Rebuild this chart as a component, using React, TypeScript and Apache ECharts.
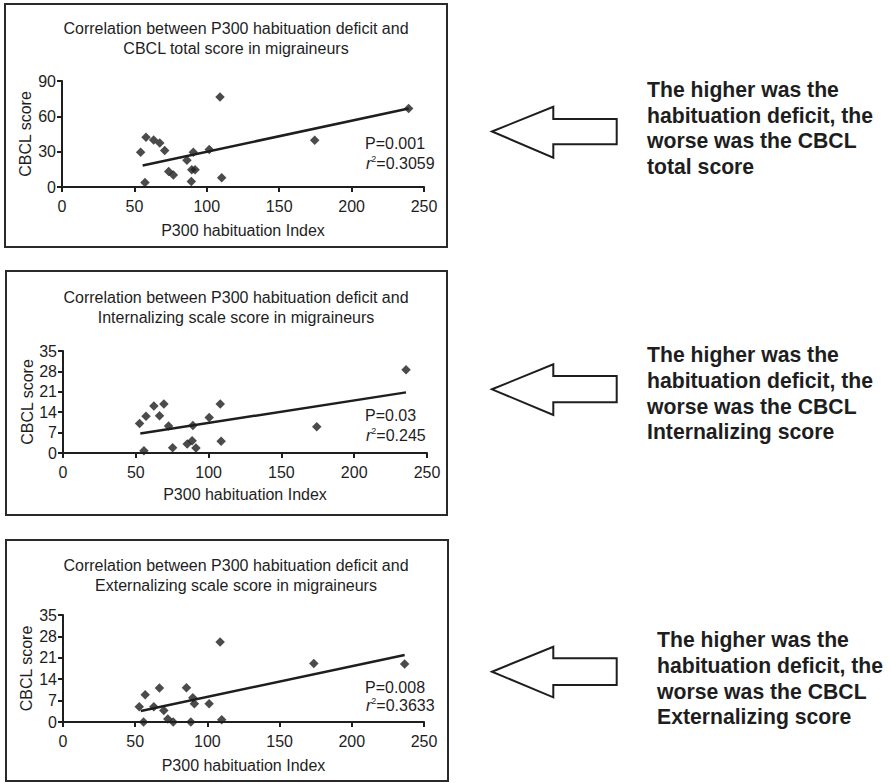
import React, { useEffect, useRef } from "react";
import * as echarts from "echarts";

const FONT = '"Liberation Sans", Arial, Helvetica, sans-serif';
const INK = "#1e1e1e";

const xTicks = [0, 50, 100, 150, 200, 250];

const titles = [
  "Correlation between P300 habituation deficit and\nCBCL total score in migraineurs",
  "Correlation between P300 habituation deficit and\nInternalizing scale score in migraineurs",
  "Correlation between P300 habituation deficit and\nExternalizing scale score in migraineurs",
];

const yMax = [90, 35, 35];
const yInterval = [30, 7, 7];

const totalPoints = [
  [54.3, 29.5], [57.3, 3.9], [58, 42.2], [63.3, 40], [67.5, 37.4], [70.9, 30.9],
  [73.7, 13.2], [76.9, 10.1], [86.3, 22.8], [89.3, 4.7], [89.6, 14.6], [90.7, 29.5],
  [91.9, 14.6], [101.7, 31.8], [109.1, 76.5], [110.3, 7.9], [174.5, 39.7], [239.4, 66.7],
];
const internalPoints = [
  [52.6, 10.1], [55.6, 0.8], [57, 12.6], [62.4, 16.1], [66.3, 12.8], [69.3, 16.8],
  [72.5, 9.3], [75.3, 1.8], [85.3, 3.1], [88.7, 4.2], [89.2, 9.4], [91.3, 1.7],
  [100.4, 12.2], [108, 16.8], [108.6, 4.0], [174.3, 9.0], [235.6, 28.6],
];
const externalPoints = [
  [52.8, 5.0], [55.8, 0], [56.9, 8.9], [62.9, 5.0], [66.8, 11.1], [69.8, 3.8],
  [72.6, 1.0], [76.3, 0], [85.5, 11.2], [88.5, 0], [89.9, 7.9], [91, 6.0],
  [101.2, 6.0], [108.8, 26.2], [109.9, 0.7], [173.7, 19.1], [236.6, 19.0],
];

const totalFit = [[55.7, 18.2], [239.4, 66.7]];
const internalFit = [[53.1, 6.7], [235.6, 20.8]];
const externalFit = [[53.9, 3.6], [236.6, 21.9]];

const pValues = ["P=0.001", "P=0.03", "P=0.008"];
const r2Values = ["0.3059", "0.245", "0.3633"];

const sideTexts = [
  "The higher was the\nhabituation deficit, the\nworse was the CBCL\ntotal score",
  "The higher was the\nhabituation deficit, the\nworse was the CBCL\nInternalizing score",
  "The higher was the\nhabituation deficit, the\nworse was the CBCL\nExternalizing score",
];

const pointSets = [totalPoints, internalPoints, externalPoints];
const fitSets = [totalFit, internalFit, externalFit];

export default function App() {
  const ref = useRef<HTMLDivElement>(null);

  useEffect(() => {
    if (!ref.current) return;
    const chart = echarts.init(ref.current, null, { renderer: "svg" });

    const grids = [
      { left: 62, top: 81, width: 362, height: 106 },
      { left: 63, top: 351, width: 364, height: 102 },
      { left: 63, top: 615, width: 361, height: 107 },
    ];
    const titleTops = [13, 282, 550];
    const titleX = [231, 231, 231];
    const yNameGaps = [29, 28, 29];
    const xNameGaps = [35, 33, 35];
    const pY = [143, 415, 687];
    const rY = [163, 435, 705];
    const boxes = [
      { x: 5, y: 4, w: 442, h: 243 },
      { x: 6, y: 271, w: 441, h: 244 },
      { x: 6, y: 540, w: 442, h: 241 },
    ];
    const arrows = [
      { tipY: 131.5, headT: 106.7, headB: 157.7, shT: 119, shB: 144.3 },
      { tipY: 389.3, headT: 364.3, headB: 415, shT: 376, shB: 402.3 },
      { tipY: 671.7, headT: 646.7, headB: 697.3, shT: 658.3, shB: 685 },
    ];
    const sideTop = [76.5, 342, 627];
    const sideLeft = [647, 647, 657];

    const axisCommon = {
      axisLine: { show: true, lineStyle: { color: INK, width: 2 } },
      axisTick: { show: true, length: 5, lineStyle: { color: INK, width: 2 } },
      splitLine: { show: false },
    };

    const xAxis = grids.map((_, i) => ({
      type: "value",
      gridIndex: i,
      min: 0,
      max: 250,
      interval: 50,
      name: "P300 habituation Index",
      nameLocation: "middle",
      nameGap: xNameGaps[i],
      nameTextStyle: { fontFamily: FONT, fontSize: 16, color: INK },
      axisLabel: { margin: 11, fontFamily: FONT, fontSize: 16, color: INK },
      ...axisCommon,
    }));
    const yAxis = grids.map((_, i) => ({
      type: "value",
      gridIndex: i,
      min: 0,
      max: yMax[i],
      interval: yInterval[i],
      name: "CBCL score",
      nameLocation: "middle",
      nameGap: yNameGaps[i],
      nameTextStyle: { fontFamily: FONT, fontSize: 16, color: INK },
      axisLabel: { margin: 6, fontFamily: FONT, fontSize: 16, color: INK },
      ...axisCommon,
    }));

    const series: any[] = [];
    pointSets.forEach((pts, i) => {
      series.push({
        type: "line",
        xAxisIndex: i,
        yAxisIndex: i,
        data: fitSets[i],
        symbol: "none",
        lineStyle: { color: INK, width: 2.5 },
        z: 2,
      });
      series.push({
        type: "scatter",
        xAxisIndex: i,
        yAxisIndex: i,
        data: pts,
        symbol: "diamond",
        symbolSize: 9.5,
        itemStyle: { color: INK },
        z: 3,
      });
    });

    const graphic: any[] = [];
    boxes.forEach((b) => {
      graphic.push({
        type: "rect",
        shape: { x: b.x, y: b.y, width: b.w, height: b.h },
        style: { fill: "none", stroke: "#2a2a2a", lineWidth: 2 },
        silent: true,
      });
    });
    arrows.forEach((a) => {
      graphic.push({
        type: "polygon",
        shape: {
          points: [
            [492, a.tipY],
            [553.3, a.headT],
            [553.3, a.shT],
            [616.7, a.shT],
            [616.7, a.shB],
            [553.3, a.shB],
            [553.3, a.headB],
          ],
        },
        style: { fill: "#fff", stroke: INK, lineWidth: 2 },
      });
    });
    sideTexts.forEach((t, i) => {
      graphic.push({
        type: "text",
        x: sideLeft[i],
        y: sideTop[i],
        style: {
          text: t,
          fontFamily: FONT,
          fontSize: 21.2,
          fontWeight: "bold",
          lineHeight: 25.7,
          fill: INK,
          align: "left",
          verticalAlign: "top",
        },
      });
    });
    pValues.forEach((p, i) => {
      graphic.push({
        type: "text",
        x: 365,
        y: pY[i],
        style: {
          text: p,
          fontFamily: FONT,
          fontSize: 16,
          fill: INK,
          align: "left",
          verticalAlign: "middle",
        },
      });
      graphic.push({
        type: "text",
        x: 366,
        y: rY[i],
        style: {
          text: "{i|r}{s|2}{n|=" + r2Values[i] + "}",
          fontFamily: FONT,
          fontSize: 16,
          fill: INK,
          align: "left",
          verticalAlign: "middle",
          rich: {
            i: { fontStyle: "italic", fontSize: 16, lineHeight: 18, fontFamily: FONT, fill: INK },
            s: { fontSize: 9, lineHeight: 18, verticalAlign: "top", fontFamily: FONT, fill: INK },
            n: { fontSize: 16, lineHeight: 18, fontFamily: FONT, fill: INK },
          },
        },
      });
    });

    chart.setOption({
      animation: false,
      backgroundColor: "#fff",
      title: titles.map((t, i) => ({
        text: t,
        left: titleX[i],
        top: titleTops[i],
        textAlign: "center",
        textStyle: {
          fontFamily: FONT,
          fontSize: 16,
          fontWeight: "normal",
          color: INK,
          lineHeight: 20,
        },
      })),
      grid: grids.map((g) => ({ ...g, containLabel: false })),
      xAxis,
      yAxis,
      series,
      graphic,
    });

    return () => chart.dispose();
  }, []);

  return (
    <div
      ref={ref}
      style={{ position: "fixed", left: 0, top: 0, width: 891, height: 783, background: "#fff" }}
    />
  );
}
